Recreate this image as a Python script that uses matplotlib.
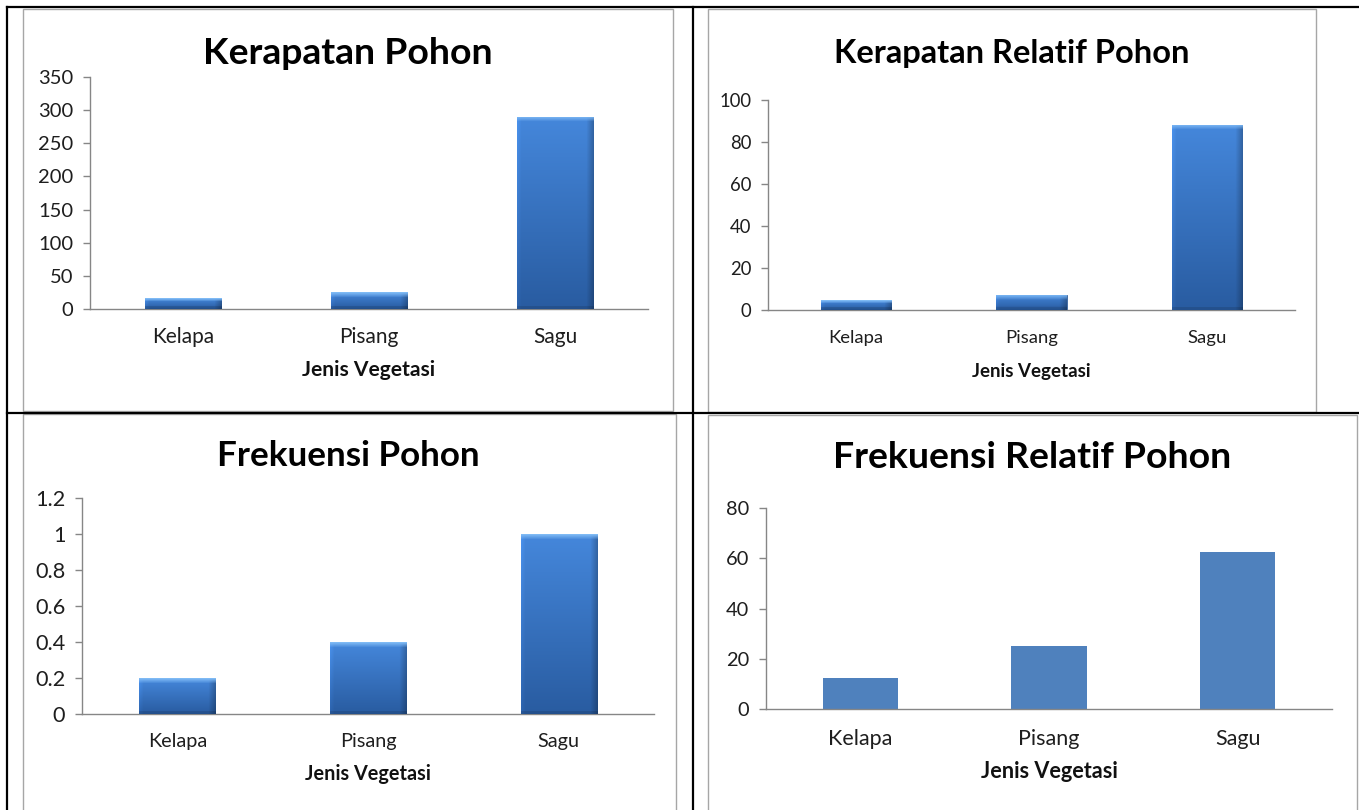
import numpy as np
import matplotlib
matplotlib.use('Agg')
from matplotlib import pyplot as plt
from matplotlib.patches import Rectangle
from matplotlib.lines import Line2D

plt.rcParams['font.family'] = ['Lato', 'DejaVu Sans']

categories = ['Kelapa', 'Pisang', 'Sagu']
kerapatan = [16, 25, 290]
kerapatan_relatif = [4.6, 7.2, 88.2]
frekuensi = [0.2, 0.4, 1.0]
frekuensi_relatif = [12.5, 25, 62.5]

titles = ['Kerapatan Pohon', 'Kerapatan Relatif Pohon', 'Frekuensi Pohon', 'Frekuensi Relatif Pohon']
xlabel = 'Jenis Vegetasi'
yticks_tl = [0, 50, 100, 150, 200, 250, 300, 350]
yticks_tr = [0, 20, 40, 60, 80, 100]
yticks_bl = [0, 0.2, 0.4, 0.6, 0.8, 1.0, 1.2]
yticklabels_bl = ['0', '0.2', '0.4', '0.6', '0.8', '1', '1.2']
yticks_br = [0, 20, 40, 60, 80]

W, H = 1359, 810
fig = plt.figure(figsize=(W / 100, H / 100), dpi=100)
fig.patch.set_facecolor('white')


def fx(x):
    return x / W


def fy(y):
    return 1 - y / H


# layout in pixels: frame, axes box (left, top, right, bottom), title pos, target widths
panels = [
    dict(values=kerapatan, title=titles[0], ticks=yticks_tl, labels=[str(t) for t in yticks_tl],
         frame=(23, 9, 673, 411), box=(90, 77, 648, 309), tpos=(348, 53), tw=290,
         cat_y=337, xl_y=370, catw=62, xlw=132, yw=35, barw=0.41, bevel=True),
    dict(values=kerapatan_relatif, title=titles[1], ticks=yticks_tr, labels=[str(t) for t in yticks_tr],
         frame=(708, 9, 1316, 412), box=(768, 100, 1295, 310), tpos=(1012, 53), tw=356,
         cat_y=340, xl_y=372, catw=55, xlw=118, yw=32, barw=0.40, bevel=True),
    dict(values=frekuensi, title=titles[2], ticks=yticks_bl, labels=yticklabels_bl,
         frame=(23, 414, 676, 812), box=(82, 498, 654, 714), tpos=(348, 456), tw=262,
         cat_y=743, xl_y=774, catw=59, xlw=125, yw=30, barw=0.40, bevel=True),
    dict(values=frekuensi_relatif, title=titles[3], ticks=yticks_br, labels=[str(t) for t in yticks_br],
         frame=(708, 415, 1357, 812), box=(766, 508, 1332, 709), tpos=(1032, 458), tw=398,
         cat_y=739, xl_y=772, catw=64, xlw=136, yw=23, barw=0.40, bevel=False),
]

renderer = fig.canvas.get_renderer()


def fit(txt, width):
    w = txt.get_window_extent(renderer).width
    txt.set_fontsize(txt.get_fontsize() * width / w)


def bevel_bars(ax, bars):
    top = np.array([0.27, 0.53, 0.86])
    bot = np.array([0.16, 0.36, 0.63])
    hi = np.array([0.50, 0.73, 0.96])
    for b in bars:
        bb = b.get_window_extent(renderer)
        nx, ny = max(int(round(bb.width)), 4), max(int(round(bb.height)), 4)
        t = np.linspace(0, 1, ny)[:, None, None]
        img = top * (1 - t) + bot * t
        img = np.repeat(img, nx, axis=1)
        # soft side shading: slightly lighter left, darker right
        u = np.arange(nx)
        shade = np.ones(nx)
        shade += 0.08 * np.clip(1 - u / 4.0, 0, 1)
        shade -= 0.24 * np.clip((u - (nx - 8)) / 7.0, 0, 1)
        img = np.clip(img * shade[None, :, None], 0, 1)
        k = min(5, ny // 3)
        for i in range(k):
            a = 1 - i / k
            img[i] = img[i] * (1 - a) + hi * a
        img[-3:] = img[-3:] * 0.88
        x0, y0, w, h = b.get_x(), b.get_y(), b.get_width(), b.get_height()
        im = ax.imshow(img, extent=(x0, x0 + w, y0, y0 + h), aspect='auto',
                       interpolation='bilinear', zorder=3)
        im.set_clip_path(b)


x = np.arange(len(categories))
for p in panels:
    fx0, fy0, fx1, fy1 = p['frame']
    fig.add_artist(Rectangle((fx(fx0), fy(fy1)), fx(fx1 - fx0), (fy1 - fy0) / H,
                             transform=fig.transFigure, fill=False, edgecolor='#a6a6a6', lw=1.0))
    l, t, r, b = p['box']
    ax = fig.add_axes([fx(l), fy(b), fx(r - l), (b - t) / H])
    ax.set_facecolor('none')
    ax.set_xlim(-0.5, 2.5)
    ax.set_ylim(0, p['ticks'][-1])
    if p['bevel']:
        bars = ax.bar(x, p['values'], width=p['barw'], color='#3a72c0', edgecolor='#23528f',
                      linewidth=0.5, zorder=2)
        bevel_bars(ax, bars)
    else:
        ax.bar(x, p['values'], width=p['barw'], color='#4f81bd', zorder=2)
    ax.set_xlim(-0.5, 2.5)
    ax.set_ylim(0, p['ticks'][-1])
    ax.set_yticks(p['ticks'])
    ax.set_yticklabels(p['labels'])
    ax.set_xticks(x)
    ax.set_xticklabels(categories)
    for s in ['top', 'right']:
        ax.spines[s].set_visible(False)
    for s in ['left', 'bottom']:
        ax.spines[s].set_color('#868686')
        ax.spines[s].set_linewidth(1.0)
    ax.tick_params(axis='y', direction='out', length=5, width=1, color='#868686',
                   pad=7, labelsize=13, labelcolor='#1e1e1e')
    ax.tick_params(axis='x', length=0, pad=(p['cat_y'] - 10 - b) * 0.72,
                   labelsize=13, labelcolor='#1e1e1e')
    lab = ax.set_xlabel(xlabel, fontweight='bold', fontsize=12, color='#111111')
    lab.set_va('center')
    ax.xaxis.set_label_coords(0.5, -(p['xl_y'] - b) / (b - t))

    fig.canvas.draw()
    fit(lab, p['xlw'])
    kel = ax.get_xticklabels()[0]
    s = kel.get_fontsize() * p['catw'] / kel.get_window_extent(renderer).width
    ax.tick_params(axis='x', labelsize=s)
    top_lab = ax.get_yticklabels()[-1]
    s = top_lab.get_fontsize() * p['yw'] / top_lab.get_window_extent(renderer).width
    ax.tick_params(axis='y', labelsize=s)

    ttl = fig.text(fx(p['tpos'][0]), fy(p['tpos'][1]), p['title'], ha='center', va='center',
                   fontsize=24, fontweight='bold', color='black')
    fit(ttl, p['tw'])

# table lines
black = dict(color='black', lw=1.6, transform=fig.transFigure)
fig.add_artist(Line2D([fx(7), 1], [fy(7), fy(7)], **black))
fig.add_artist(Line2D([fx(7), 1], [fy(413), fy(413)], **black))
fig.add_artist(Line2D([fx(7), fx(7)], [fy(7), 0], **black))
fig.add_artist(Line2D([fx(693), fx(693)], [fy(7), 0], **black))

fig.savefig('out.png', dpi=100)
